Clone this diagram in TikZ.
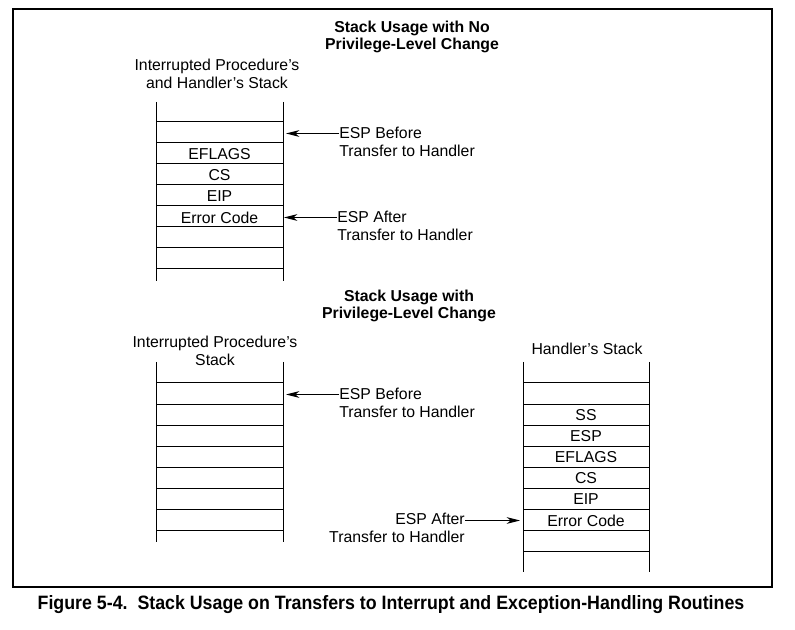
\documentclass[tikz,border=0pt]{standalone}
\usepackage{fontspec}
\setmainfont{Liberation Sans}
\newfontfamily\capfont[FakeStretch=0.92]{Liberation Sans Bold}
\usetikzlibrary{arrows.meta}

\tikzset{
  cell/.style={inner sep=0pt},
  lbl/.style={align=center, inner sep=0pt},
  ttl/.style={align=center, inner sep=0pt, font=\bfseries\fontsize{11.85}{12.8}\selectfont},
  esp/.style={inner sep=0pt},
  ptr/.style={-{Stealth[length=10pt,width=5pt,inset=3pt]}, line width=0.75pt}
}

\begin{document}
\begin{tikzpicture}[x=0.75pt,y=-0.75pt,font=\fontsize{11.85}{13.2}\selectfont]
    \useasboundingbox (0,0) rectangle (795,630);
    \draw[line width=1.4pt] (13,9) rectangle (772,587);

    % no privilege-level change
    \node[ttl] (t1) at (412,37) {Stack Usage with No\\Privilege-Level Change};
    \node[lbl] (h1) at (217,74) {Interrupted Procedure’s\\and Handler’s Stack};
    \draw[line width=0.75pt] (156,102) -- (156,281) (283,102) -- (283,281);
    \foreach \k in {0,...,7} \draw[line width=0.75pt] (156,122+21*\k) -- (283,122+21*\k);
    \foreach \k/\txt in {0/,1/EFLAGS,2/CS,3/EIP,4/Error Code}
      \node[cell] (a\k) at (219.5,133.5+21*\k) {\txt};
    \node[esp, anchor=west, align=left] (b1) at (339,142) {ESP Before\\Transfer to Handler};
    \node[esp, anchor=west, align=left] (f1) at (337,226) {ESP After\\Transfer to Handler};
    \draw[ptr] (b1.west |- a0) -- (a0 -| 286,0);
    \draw[ptr] (f1.west |- a4) -- (a4 -| 284,0);

    % privilege-level change
    \node[ttl] (t2) at (409,306) {Stack Usage with\\Privilege-Level Change};
    \node[lbl] (h2) at (215,351) {Interrupted Procedure’s\\Stack};
    \node[lbl] (h3) at (587,349) {Handler’s Stack};
    \draw[line width=0.75pt] (156,362) -- (156,542) (283,362) -- (283,542);
    \foreach \k in {0,...,7} \draw[line width=0.75pt] (156,383+21*\k) -- (283,383+21*\k);
    \draw[line width=0.75pt] (523,362) -- (523,572) (649,362) -- (649,572);
    \foreach \k in {0,...,8} \draw[line width=0.75pt] (523,383+21*\k) -- (649,383+21*\k);
    \node[cell] (p0) at (219.5,394.5) {};
    \foreach \k/\txt in {1/SS,2/ESP,3/EFLAGS,4/CS,5/EIP,6/Error Code}
      \node[cell] (q\k) at (586,394.5+21*\k) {\txt};
    \node[esp, anchor=west, align=left] (b2) at (339,403) {ESP Before\\Transfer to Handler};
    \node[esp, anchor=east, align=right] (f2) at (465,528) {ESP After\\Transfer to Handler};
    \draw[ptr] (b2.west |- p0) -- (p0 -| 286,0);
    \draw[ptr] (f2.east |- q6) -- (q6 -| 520,0);

    \node[inner sep=0pt, font=\capfont\fontsize{14.5}{16}\selectfont] (cap) at (391,605)
      {Figure 5-4.~~Stack Usage on Transfers to Interrupt and Exception-Handling Routines};
\end{tikzpicture}
\end{document}
